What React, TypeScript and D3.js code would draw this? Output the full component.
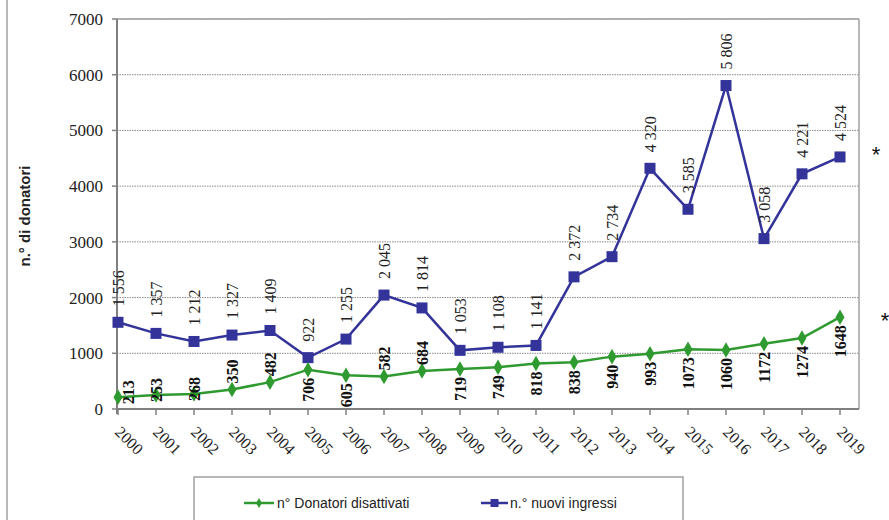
import * as d3 from "d3";

const years = ["2000", "2001", "2002", "2003", "2004", "2005", "2006", "2007", "2008", "2009",
    "2010", "2011", "2012", "2013", "2014", "2015", "2016", "2017", "2018", "2019"];
const disattivati = [213, 253, 268, 350, 482, 706, 605, 582, 684, 719,
    749, 818, 838, 940, 993, 1073, 1060, 1172, 1274, 1648];
const nuoviIngressi = [1556, 1357, 1212, 1327, 1409, 922, 1255, 2045, 1814, 1053,
    1108, 1141, 2372, 2734, 4320, 3585, 5806, 3058, 4221, 4524];
const yTicks = [0, 1000, 2000, 3000, 4000, 5000, 6000, 7000];
const legendLabels = ["n° Donatori disattivati", "n.° nuovi ingressi"];

// where the green labels sit relative to their point
const greenAbove = new Set(["2003", "2004", "2007", "2008"]);
const greenCenter = new Set(["2000", "2001", "2002"]);

const W = 889, H = 520;
const plotLeft = 117, plotRight = 859, plotTop = 19, plotBottom = 409;
const green = "#2f9a2f";
const blue = "#33339a";
const serif = "'Liberation Serif', 'Times New Roman', serif";
const sans = "'Liberation Sans', Arial, sans-serif";

const fmtSpace = (v: number) => v >= 1000 ? `${Math.floor(v / 1000)} ${String(v % 1000).padStart(3, "0")}` : `${v}`;

export default function App() {
    const x = d3.scalePoint<string>().domain(years).range([118, 840]);
    const y = d3.scaleLinear().domain([0, 7000]).range([plotBottom, plotTop]);

    const line = d3.line<number>()
        .x((_, i) => x(years[i])!)
        .y(d => y(d));

    const diamond = d3.symbol().type(d3.symbolDiamond).size(70)()!;

    return <svg width={W} height={H} viewBox={`0 0 ${W} ${H}`}
                style={{position: "absolute", left: 0, top: 0, background: "#fff"}}>
        {/* outer frame left edge */}
        <line x1={7} x2={7} y1={0} y2={H} stroke="#a0a0a0" strokeWidth={1.5}/>

        {/* gridlines */}
        {yTicks.filter(t => t > 0).map(t =>
            <line key={t} x1={plotLeft} x2={plotRight} y1={y(t)} y2={y(t)}
                  stroke="#8a8a8a" strokeWidth={1} strokeDasharray="1.5 1"/>)}
        <line x1={plotLeft} x2={plotRight} y1={plotTop} y2={plotTop} stroke="#a0a0a0" strokeWidth={1.5}/>
        <line x1={plotRight} x2={plotRight} y1={plotTop} y2={plotBottom} stroke="#a0a0a0" strokeWidth={1.5}/>

        {/* y axis */}
        <line x1={plotLeft} x2={plotLeft} y1={plotTop} y2={plotBottom + 5} stroke="#808080" strokeWidth={2}/>
        {yTicks.map(t => <g key={t}>
            <line x1={plotLeft - 5} x2={plotLeft} y1={y(t)} y2={y(t)} stroke="#808080" strokeWidth={1.5}/>
            <text x={103} y={y(t)} dy="0.35em" textAnchor="end" fontFamily={serif} fontSize={17} fill="#222">{t}</text>
        </g>)}
        <text transform={`translate(30,216) rotate(-90)`} textAnchor="middle" fontFamily={sans}
              fontWeight="bold" fontSize={15} fill="#222">n.° di donatori</text>

        {/* x axis */}
        <line x1={plotLeft} x2={plotRight} y1={plotBottom} y2={plotBottom} stroke="#808080" strokeWidth={2}/>
        {years.map(yr => <g key={yr}>
            <line x1={x(yr)} x2={x(yr)} y1={plotBottom} y2={plotBottom + 6} stroke="#808080" strokeWidth={1.5}/>
            <text transform={`translate(${x(yr)! - 4},${plotBottom + 24}) rotate(45)`} fontFamily={serif}
                  fontSize={16} fill="#222">{yr}</text>
        </g>)}

        {/* series lines */}
        <path d={line(nuoviIngressi)!} fill="none" stroke={blue} strokeWidth={2.5}/>
        <path d={line(disattivati)!} fill="none" stroke={green} strokeWidth={2.5}/>

        {nuoviIngressi.map((v, i) =>
            <rect key={i} x={x(years[i])! - 5.5} y={y(v) - 5.5} width={11} height={11} fill={blue}/>)}
        {disattivati.map((v, i) =>
            <path key={i} d={diamond} transform={`translate(${x(years[i])},${y(v)})`} fill={green}/>)}

        {/* blue labels */}
        {nuoviIngressi.map((v, i) =>
            <text key={i} transform={`translate(${x(years[i])},${y(v) - 16}) rotate(-90)`} dy="0.35em"
                  fontFamily={serif} fontSize={16} fill="#222">{fmtSpace(v)}</text>)}

        {/* green labels */}
        {disattivati.map((v, i) => {
            const yr = years[i];
            const py = y(v);
            let ty: number, anchor: string;
            if (greenAbove.has(yr)) {
                ty = py - 6;
                anchor = "start";
            } else if (greenCenter.has(yr)) {
                ty = py - 5;
                anchor = "middle";
            } else {
                ty = py + 8;
                anchor = "end";
            }
            const tx = i === 0 ? x(yr)! + 10 : x(yr)!;
            return <text key={i} transform={`translate(${tx},${ty}) rotate(-90)`} dy="0.35em" textAnchor={anchor}
                         fontFamily={serif} fontWeight="bold" fontSize={16} fill="#111">{v}</text>;
        })}

        {/* asterisks */}
        <text x={876} y={162} textAnchor="middle" fontFamily={sans} fontSize={22} fill="#111">*</text>
        <text x={885} y={328} textAnchor="middle" fontFamily={sans} fontSize={22} fill="#111">*</text>

        {/* legend */}
        <rect x={194} y={477} width={489} height={60} fill="#fff" stroke="#a0a0a0" strokeWidth={1.5}/>
        {[{c: green, x0: 244, x1: 274, tx: 277, diamondMark: true},
            {c: blue, x0: 481, x1: 508, tx: 510, diamondMark: false}].map((l, k) =>
            <g key={k}>
                <line x1={l.x0} x2={l.x1} y1={503} y2={503} stroke={l.c} strokeWidth={2.5}/>
                {l.diamondMark
                    ? <path d={d3.symbol().type(d3.symbolDiamond).size(30)()!}
                            transform={`translate(${(l.x0 + l.x1) / 2},503)`} fill={l.c}/>
                    : <rect x={(l.x0 + l.x1) / 2 - 4} y={499} width={8} height={8} fill={l.c}/>}
                <text x={l.tx} y={503} dy="0.35em" fontFamily={sans} fontSize={14} fill="#222">{legendLabels[k]}</text>
            </g>)}
    </svg>;
}
